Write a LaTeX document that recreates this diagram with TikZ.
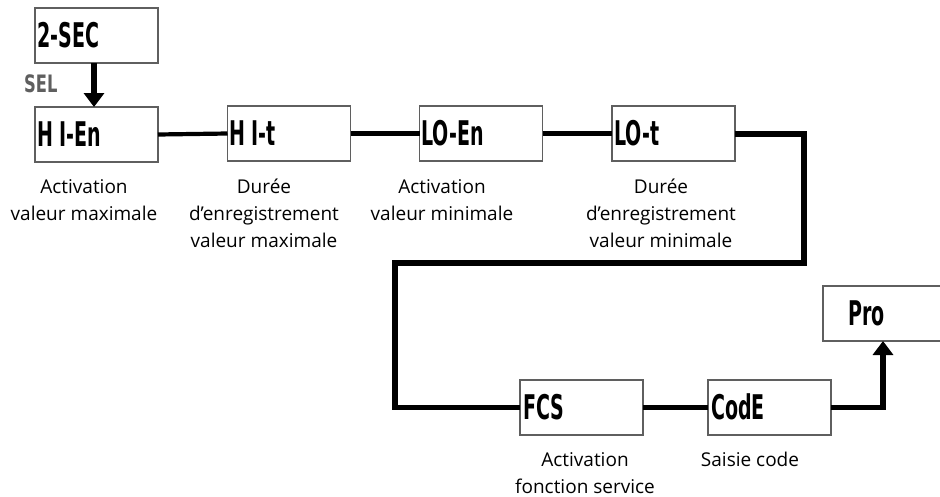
\documentclass[tikz,border=0pt]{standalone}
\usepackage{fontspec}
\setmainfont{Open Sans}
\newfontfamily\dispfont{DejaVu Sans}[Scale=1]
\usetikzlibrary{arrows.meta}
\definecolor{boxgray}{RGB}{95,95,95}
\begin{document}
\begin{tikzpicture}[x=1pt,y=-1pt,
  dispbox/.style={draw=boxgray,line width=1.8pt,fill=white,minimum width=123pt,minimum height=55pt,inner sep=0pt,outer sep=0pt},
  disptext/.style={anchor=west,inner sep=0pt,font=\dispfont\bfseries\fontsize{34}{34}\selectfont},
  label/.style={align=center,font=\fontsize{19}{27}\selectfont,inner sep=0pt,anchor=north},
  thinline/.style={line width=4.2pt},
  thickline/.style={line width=5.2pt},
  bigarrow/.style={line width=5.2pt,-{Triangle[length=14pt,width=20pt]}}]
\useasboundingbox (0,0) rectangle (940,496);
\begin{scope}
\clip (0,0) rectangle (940,496);
% boxes
\node[dispbox] (sec) at (96.5,35.5) {};
\node[dispbox] (hien) at (96.5,134.5) {};
\node[dispbox] (hit) at (289,133.5) {};
\node[dispbox] (loen) at (481,133.5) {};
\node[dispbox] (lot) at (673.5,133.5) {};
\node[dispbox] (fcs) at (581.5,407.5) {};
\node[dispbox] (code) at (769.5,407.5) {};
\node[dispbox] (pro) at (884.5,313.5) {};
% box texts
\node[disptext] (tsec) at (37,35) {\scalebox{0.56}[1]{2-SEC}};
\node[disptext] (thien) at (37,134) {\scalebox{0.56}[1]{H I-En}};
\node[disptext] (thit) at (229,133) {\scalebox{0.56}[1]{H I-t}};
\node[disptext] (tloen) at (421,133) {\scalebox{0.56}[1]{LO-En}};
\node[disptext] (tlot) at (614,133) {\scalebox{0.56}[1]{LO-t}};
\node[disptext] (tfcs) at (523,407) {\scalebox{0.56}[1]{FCS}};
\node[disptext] (tcode) at (711,407) {\scalebox{0.56}[1]{CodE}};
\node[disptext] (tpro) at (848,313) {\scalebox{0.56}[1]{Pro}};
% SEL
\node[anchor=west,inner sep=0pt,text=boxgray,font=\dispfont\bfseries\fontsize{24}{24}\selectfont] (sel) at (24,84) {\scalebox{0.68}[1]{SEL}};
% connectors
\draw[bigarrow] (sec.south -| 94,0) -- (hien.north -| 94,0);
\draw[thinline] (hien.east) -- (hit.west);
\draw[thinline] (hit.east) -- (loen.west);
\draw[thinline] (loen.east) -- (lot.west);
\coordinate (c1) at (804,134);
\coordinate (c2) at (804,263);
\coordinate (c3) at (395,263);
\coordinate (c4) at (395,407.5);
\draw[thickline,line join=miter] (lot.east |- c1) -- (c1) -- (c2) -- (c3) -- (c4) -- (fcs.west);
\draw[thinline] (fcs.east) -- (code.west);
\coordinate (c5) at (883,407.5);
\draw[bigarrow,line join=miter] (code.east) -- (c5) -- (pro.south -| c5);
\end{scope}
% labels
\node[label] (l1) at (84,179) {Activation\\valeur maximale};
\node[label] (l2) at (264,179) {Durée\\d’enregistrement\\valeur maximale};
\node[label] (l3) at (442,179) {Activation\\valeur minimale};
\node[label] (l4) at (661,179) {Durée\\d’enregistrement\\valeur minimale};
\node[label] (l5) at (585,452) {Activation\\fonction service};
\node[label] (l6) at (750,452) {Saisie code};
\end{tikzpicture}
\end{document}
